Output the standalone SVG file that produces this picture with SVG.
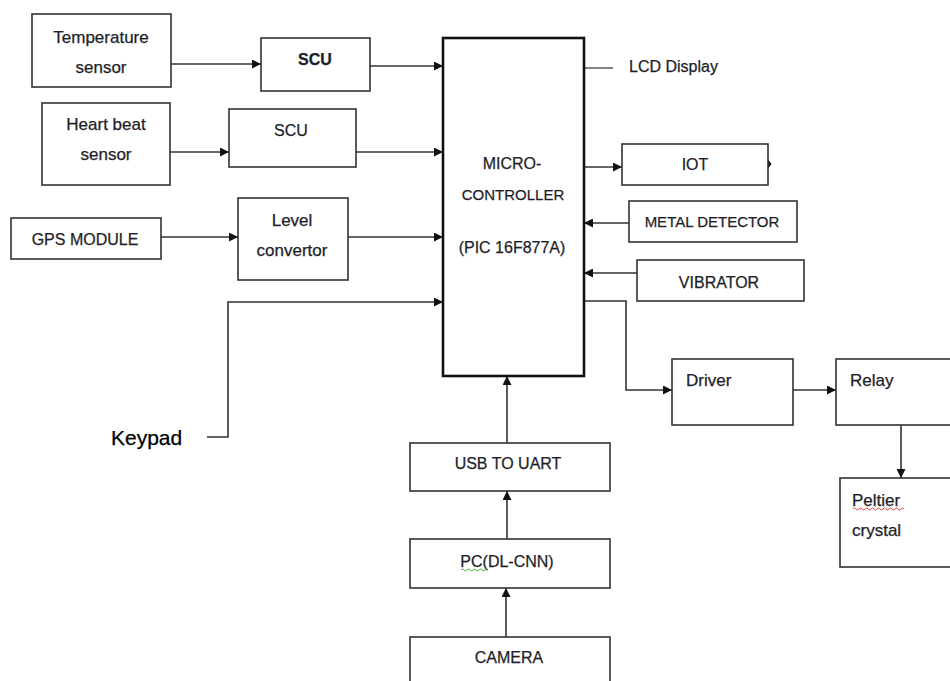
<svg xmlns="http://www.w3.org/2000/svg" width="950" height="681" viewBox="0 0 950 681">
<style>
.box{fill:#fff;stroke:#333;stroke-width:1.6}
.mc{fill:#fff;stroke:#111;stroke-width:2.6}
.t{font-family:"Liberation Sans",Arial,sans-serif;font-size:17px;fill:#1e1e28;text-anchor:middle;dominant-baseline:central;stroke:#1e1e28;stroke-width:0.25}
.c{font-size:16px}
.l{text-anchor:start}
.ln{fill:none;stroke:#333;stroke-width:1.6}
</style>
<defs>
<marker id="ah" viewBox="0 0 10 10" refX="10" refY="5" markerWidth="10" markerHeight="9" markerUnits="userSpaceOnUse" orient="auto">
<path d="M0,0 L10,5 L0,10 z" fill="#111"/>
</marker>
</defs>
<rect width="950" height="681" fill="#fff"/>
<g id="connectors">
<line class="ln" x1="171" y1="64" x2="261" y2="64" marker-end="url(#ah)"/>
<line class="ln" x1="370" y1="66" x2="443" y2="66" marker-end="url(#ah)"/>
<line class="ln" x1="170" y1="152" x2="229" y2="152" marker-end="url(#ah)"/>
<line class="ln" x1="356" y1="152" x2="443" y2="152" marker-end="url(#ah)"/>
<line class="ln" x1="161" y1="237" x2="238" y2="237" marker-end="url(#ah)"/>
<line class="ln" x1="348" y1="237" x2="443" y2="237" marker-end="url(#ah)"/>
<polyline class="ln" points="207,437 228,437 228,302 443,302" marker-end="url(#ah)"/>
<line x1="584" y1="68" x2="613" y2="68" stroke="#666" stroke-width="1.6"/>
<line class="ln" x1="584" y1="167" x2="622" y2="167" marker-end="url(#ah)"/>
<path d="M768,160 L771,164 L768,168" fill="#111" stroke="#111" stroke-width="1"/>
<line class="ln" x1="629" y1="223" x2="584" y2="223" marker-end="url(#ah)"/>
<line class="ln" x1="637" y1="273" x2="584" y2="273" marker-end="url(#ah)"/>
<polyline class="ln" points="584,301 626,301 626,390 672,390" marker-end="url(#ah)"/>
<line class="ln" x1="793" y1="390" x2="836" y2="390" marker-end="url(#ah)"/>
<line class="ln" x1="901" y1="425" x2="901" y2="478" marker-end="url(#ah)"/>
<line class="ln" x1="507" y1="443" x2="507" y2="376" marker-end="url(#ah)"/>
<line class="ln" x1="507" y1="539" x2="507" y2="491" marker-end="url(#ah)"/>
<line class="ln" x1="506" y1="637" x2="506" y2="588" marker-end="url(#ah)"/>
</g>
<g id="temp">
<rect class="box" x="32" y="14" width="139" height="73"/>
<text class="t" x="101" y="37">Temperature</text>
<text class="t" x="101" y="67">sensor</text>
</g>
<g id="scu1">
<rect class="box" x="261" y="38" width="109" height="53"/>
<text class="t" x="315" y="59" font-weight="bold" style="font-size:16px">SCU</text>
</g>
<g id="heart">
<rect class="box" x="42" y="103" width="128" height="82"/>
<text class="t" x="106" y="124">Heart beat</text>
<text class="t" x="106" y="154">sensor</text>
</g>
<g id="scu2">
<rect class="box" x="229" y="109" width="127" height="58"/>
<text class="t c" x="291" y="130">SCU</text>
</g>
<g id="gps">
<rect class="box" x="11" y="218" width="150" height="41"/>
<text class="t c" x="85" y="239">GPS MODULE</text>
</g>
<g id="level">
<rect class="box" x="238" y="198" width="110" height="82"/>
<text class="t" x="292" y="220">Level</text>
<text class="t" x="292" y="250">convertor</text>
</g>
<g id="keypad">
<text class="t l" x="111" y="437" style="font-size:21px;fill:#000;stroke:#000">Keypad</text>
</g>
<g id="mcu">
<rect class="mc" x="443" y="38" width="141" height="338"/>
<text class="t c" x="512" y="163">MICRO-</text>
<text class="t" x="513" y="194" style="font-size:15px">CONTROLLER</text>
<text class="t c" x="512" y="247">(PIC 16F877A)</text>
</g>
<g id="lcd">
<text class="t c l" x="629" y="66">LCD Display</text>
</g>
<g id="iot">
<rect class="box" x="622" y="144" width="146" height="41"/>
<text class="t c" x="695" y="164">IOT</text>
</g>
<g id="metal">
<rect class="box" x="629" y="201" width="168" height="41"/>
<text class="t" x="712" y="221" style="font-size:15px">METAL DETECTOR</text>
</g>
<g id="vibrator">
<rect class="box" x="637" y="260" width="167" height="41"/>
<text class="t c" x="719" y="282">VIBRATOR</text>
</g>
<g id="driver">
<rect class="box" x="672" y="359" width="121" height="66"/>
<text class="t l" x="686" y="380">Driver</text>
</g>
<g id="relay">
<rect class="box" x="836" y="359" width="124" height="66"/>
<text class="t l" x="850" y="380">Relay</text>
</g>
<g id="peltier">
<rect class="box" x="840" y="478" width="120" height="89"/>
<text class="t l" x="852" y="500">Peltier</text>
<path d="M853,509 q1.5,-2 3,0 t3,0 t3,0 t3,0 t3,0 t3,0 t3,0 t3,0 t3,0 t3,0 t3,0 t3,0 t3,0 t3,0 t3,0 t3,0 t3,0" fill="none" stroke="#e03030" stroke-width="0.9"/>
<text class="t l" x="852" y="530">crystal</text>
</g>
<g id="usb">
<rect class="box" x="410" y="443" width="200" height="48"/>
<text class="t c" x="508" y="463">USB TO UART</text>
</g>
<g id="pc">
<rect class="box" x="410" y="539" width="200" height="49"/>
<text class="t c" x="507" y="561">PC(DL-CNN)</text>
<path d="M461,570 q1.5,-2 3,0 t3,0 t3,0 t3,0 t3,0 t3,0 t3,0 t3,0 t3,0" fill="none" stroke="#30a030" stroke-width="0.9"/>
</g>
<g id="camera">
<rect class="box" x="410" y="637" width="200" height="60"/>
<text class="t c" x="509" y="657">CAMERA</text>
</g>
</svg>
